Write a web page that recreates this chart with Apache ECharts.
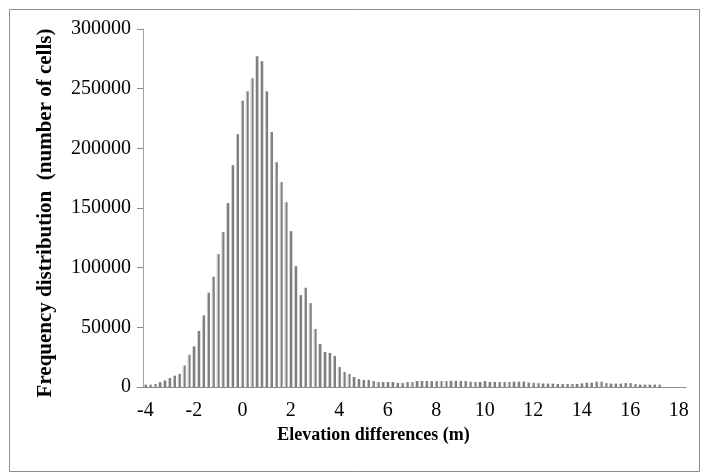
<!DOCTYPE html>
<html>
<head>
<meta charset="utf-8">
<script src="https://cdn.jsdelivr.net/npm/echarts@6/dist/echarts.min.js"></script>
<style>
html,body{margin:0;padding:0;background:#fff;}
#chart{width:704px;height:476px;}
</style>
</head>
<body>
<div id="chart"></div>
<script>
// Bin labels (elevation difference, m), 0.2 m bins
var categories = [
"-4","-3.8","-3.6","-3.4","-3.2","-3","-2.8","-2.6","-2.4","-2.2",
"-2","-1.8","-1.6","-1.4","-1.2","-1","-0.8","-0.6","-0.4","-0.2",
"0","0.2","0.4","0.6","0.8","1","1.2","1.4","1.6","1.8",
"2","2.2","2.4","2.6","2.8","3","3.2","3.4","3.6","3.8",
"4","4.2","4.4","4.6","4.8","5","5.2","5.4","5.6","5.8",
"6","6.2","6.4","6.6","6.8","7","7.2","7.4","7.6","7.8",
"8","8.2","8.4","8.6","8.8","9","9.2","9.4","9.6","9.8",
"10","10.2","10.4","10.6","10.8","11","11.2","11.4","11.6","11.8",
"12","12.2","12.4","12.6","12.8","13","13.2","13.4","13.6","13.8",
"14","14.2","14.4","14.6","14.8","15","15.2","15.4","15.6","15.8",
"16","16.2","16.4","16.6","16.8","17","17.2","17.4","17.6","17.8",
"18","18.2"
];
// Frequency (number of cells) per bin
var frequency = [
2000,2000,2500,4000,5500,7500,9500,11000,18000,27000,
34000,47000,60000,79000,92400,111400,129800,154100,185900,211900,
239800,247900,258800,277200,273000,247900,213600,188400,171700,154900,
130600,101300,77000,83200,70300,48600,36000,29300,28500,26000,
16700,12600,10900,8400,6700,5900,5900,5000,4200,4200,
4200,4200,3400,3400,4200,4200,5000,5000,5000,5000,
5000,5000,5000,5200,5200,5000,5000,4500,4200,4200,
5000,4200,4200,4200,4200,4200,4500,4500,4500,3800,
3500,3200,3000,2800,2800,2500,2500,2500,2500,2500,
3000,3600,3600,4500,4500,3300,2800,2800,2800,3300,
3300,2500,2000,2000,2000,2000,2000,0,0,0,
0,0
];
// Tick labels shown on axes
var xTickLabels = ["-4","-2","0","2","4","6","8","10","12","14","16","18"];
var yTicks = [0,50000,100000,150000,200000,250000,300000];

var chart = echarts.init(document.getElementById('chart'), null, {renderer:'canvas'});
var serif = '"Liberation Serif","Times New Roman",serif';
chart.setOption({
  animation:false,
  backgroundColor:'#ffffff',
  graphic:[{
    type:'rect', left:7, top:7, shape:{width:690, height:462},
    style:{fill:'none', stroke:'#8c8c8c', lineWidth:1}, silent:true, z:-1
  }],
  grid:{left:143, right:18, top:29, bottom:89, containLabel:false},
  xAxis:{
    type:'category',
    data:categories,
    boundaryGap:true,
    axisLine:{show:true, lineStyle:{color:'#8c8c8c', width:1}},
    axisTick:{show:false},
    axisLabel:{
      interval:function(i, v){ return xTickLabels.indexOf(v) >= 0; },
      margin:14,
      fontFamily:serif, fontSize:20, color:'#000'
    },
    splitLine:{show:false},
    name:'Elevation differences (m)',
    nameLocation:'middle',
    nameGap:31,
    nameTextStyle:{fontFamily:serif, fontSize:18, fontWeight:'bold', color:'#000', padding:[0,82,0,0]}
  },
  yAxis:{
    type:'value',
    min:yTicks[0], max:yTicks[yTicks.length-1], interval:50000,
    axisLine:{show:true, lineStyle:{color:'#a6a6a6', width:1}},
    axisTick:{show:true, inside:false, length:6, lineStyle:{color:'#8c8c8c'}},
    axisLabel:{margin:12, fontFamily:serif, fontSize:20, color:'#000',
      formatter:function(v){ return String(v); }},
    splitLine:{show:false},
    name:'Frequency distribution  (number of cells)',
    nameLocation:'middle',
    nameGap:87,
    nameTextStyle:{fontFamily:serif, fontSize:21, fontWeight:'bold', color:'#000', padding:[0,10,0,0]}
  },
  series:[{
    type:'bar',
    data:frequency,
    barWidth:3,
    itemStyle:{
      color:new echarts.graphic.LinearGradient(0,0,1,0,[
        {offset:0, color:'#c4c4c4'},
        {offset:0.33, color:'#c4c4c4'},
        {offset:0.34, color:'#7f7f7f'},
        {offset:1, color:'#7f7f7f'}
      ])
    }
  }]
});
</script>
</body>
</html>
